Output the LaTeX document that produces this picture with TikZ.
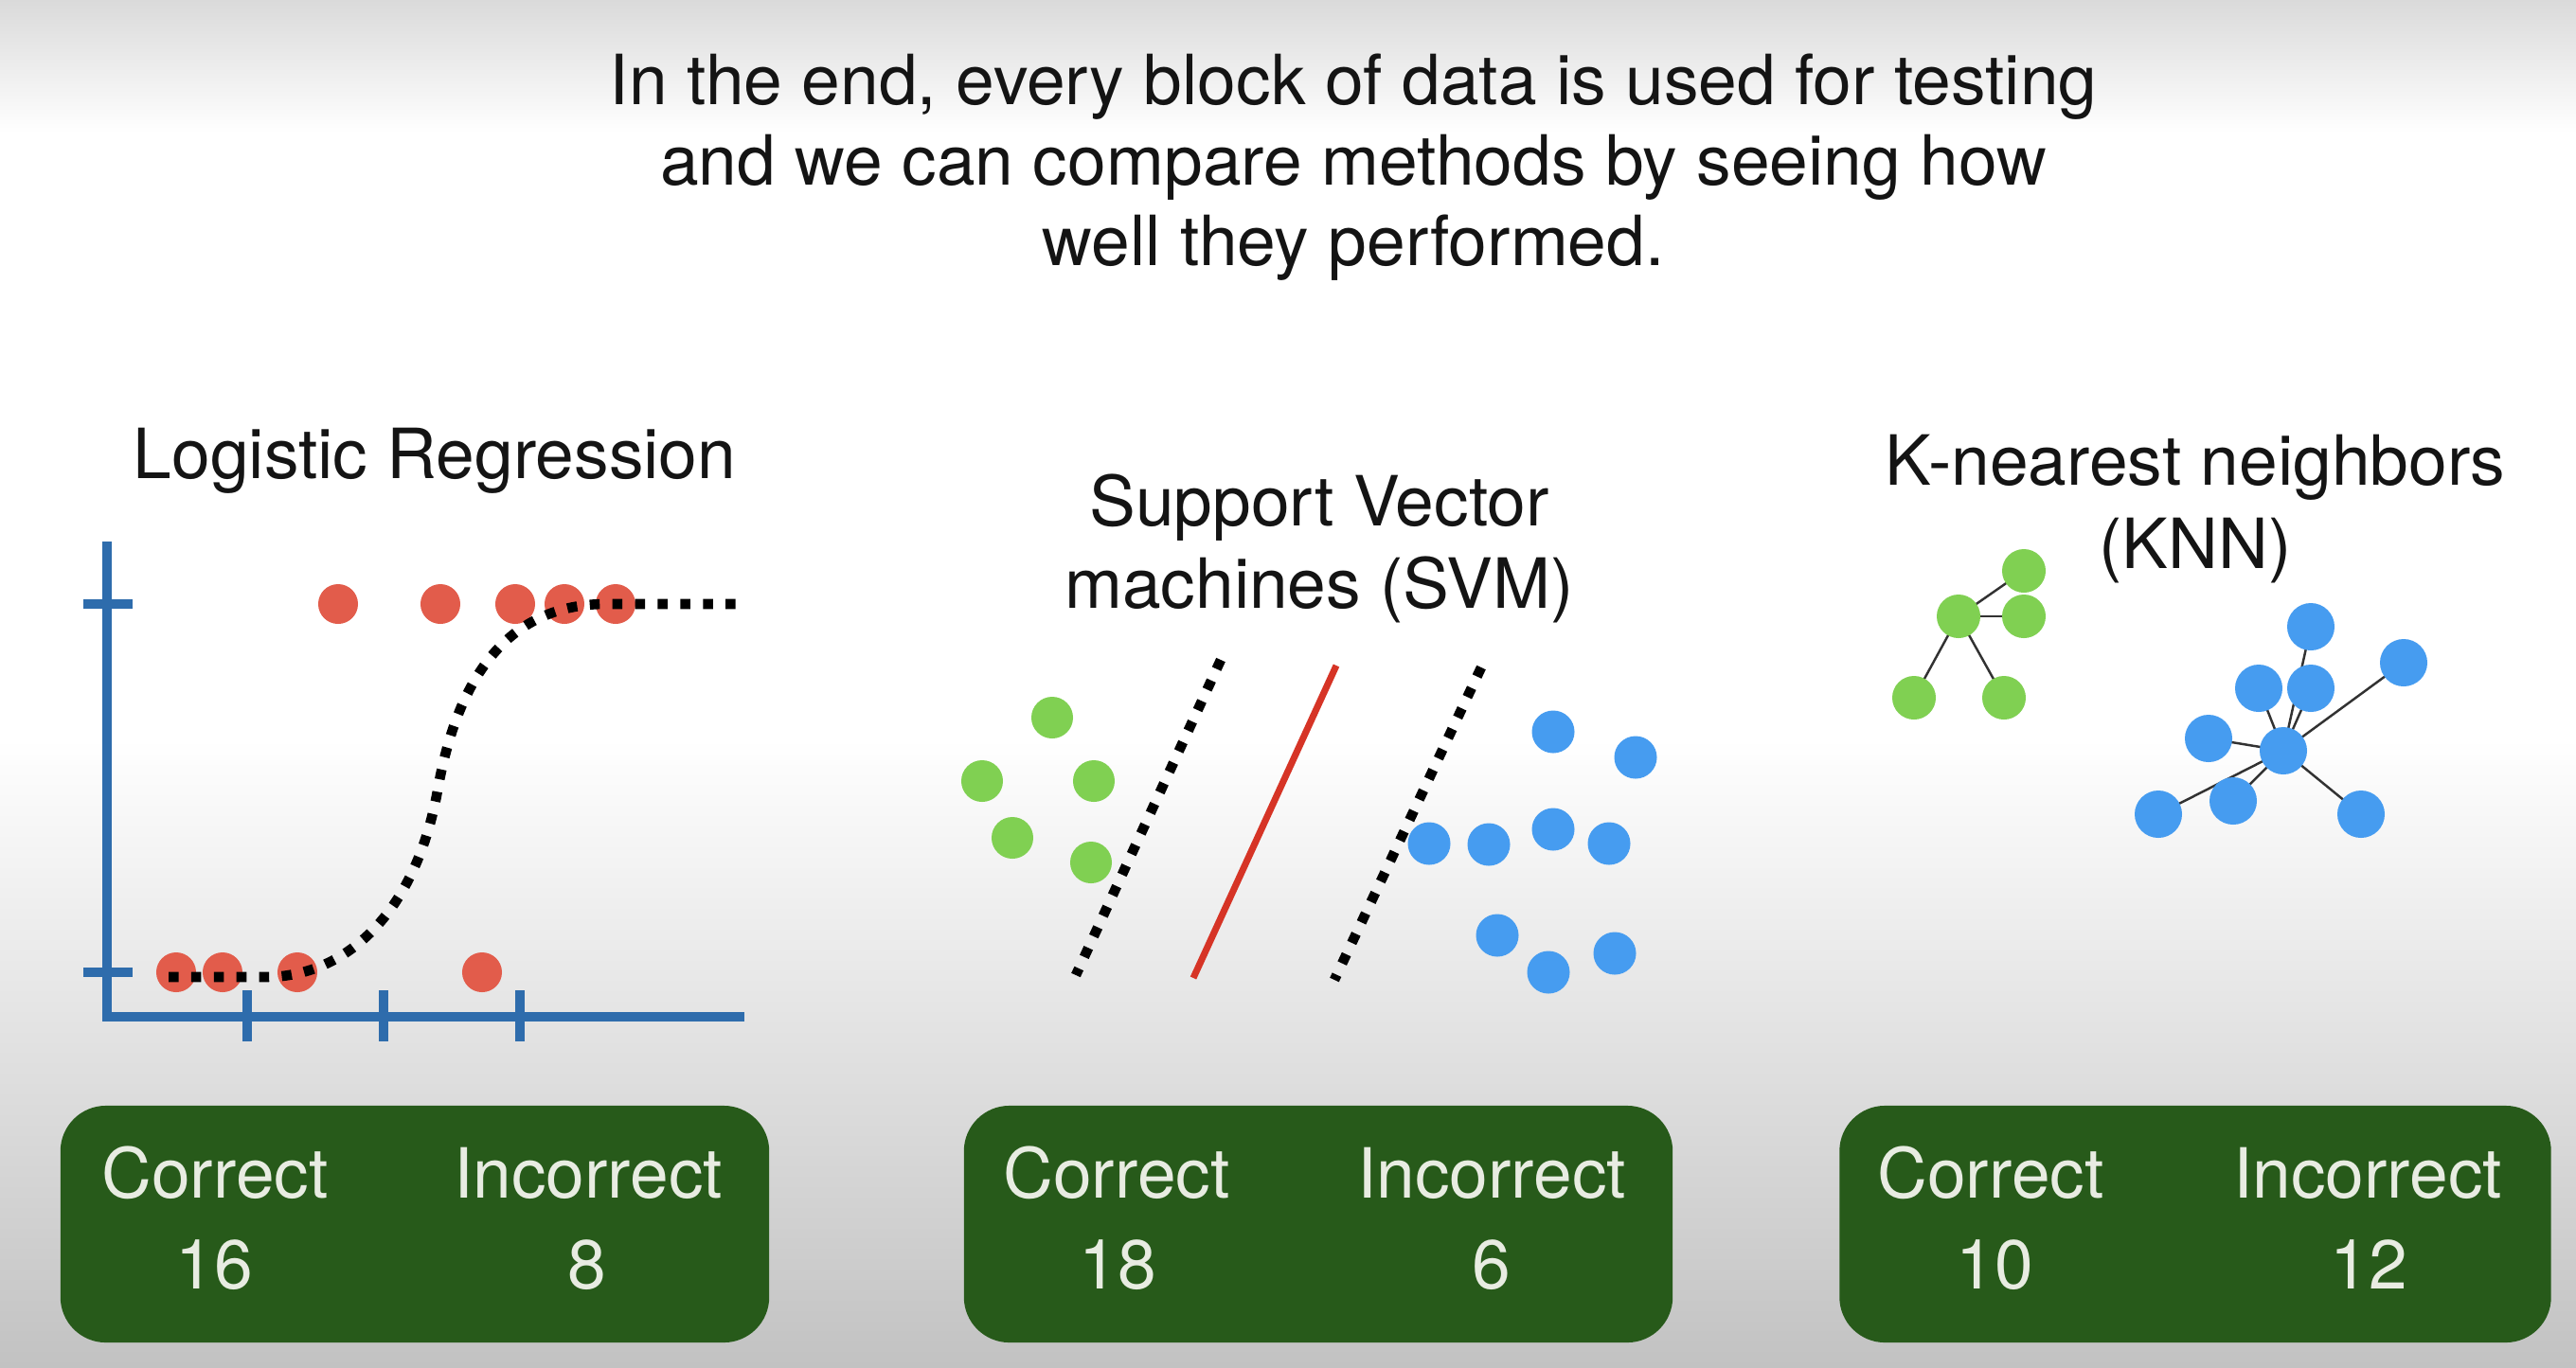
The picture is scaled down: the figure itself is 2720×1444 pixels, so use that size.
\documentclass[tikz,border=0pt]{standalone}
\usepackage{fontspec}
\setmainfont{TeX Gyre Heros}
\definecolor{bgtop}{RGB}{218,218,218}
\definecolor{bgbot}{RGB}{194,194,194}
\definecolor{dotred}{RGB}{226,92,75}
\definecolor{linered}{RGB}{214,52,38}
\definecolor{axisblue}{RGB}{46,108,172}
\definecolor{ptgreen}{RGB}{128,208,82}
\definecolor{ptblue}{RGB}{70,156,240}
\definecolor{boxgreen}{RGB}{39,90,26}
\definecolor{boxtext}{RGB}{232,236,226}
\definecolor{edgegray}{RGB}{50,50,50}
\begin{document}
\begin{tikzpicture}[x=0.01cm,y=-0.01cm,
  txt/.style={font=\fontsize{20.8pt}{25pt}\selectfont, anchor=base, inner sep=0pt, text=black!92},
  boxtxt/.style={txt, text=boxtext},
  scorebox/.style={fill=boxgreen, rounded corners=0.48cm, inner sep=0pt, minimum height=2.5cm},
  axis/.style={draw=axisblue, line width=2.83pt},
  dotline/.style={line width=3pt, dash pattern=on 3pt off 3.8pt},
  pt/.style={circle, inner sep=0pt, minimum size=#1},
  rdot/.style={pt=0.42cm, fill=dotred},
  gdot/.style={pt=0.44cm, fill=ptgreen},
  bdot/.style={pt=0.45cm, fill=ptblue},
  gnode/.style={pt=0.46cm, fill=ptgreen},
  bnode/.style={pt=0.50cm, fill=ptblue},
  edge/.style={draw=edgegray, line width=0.7pt}
]
\useasboundingbox (0,0) rectangle (2720,1444);
% background: light band at the top, grey fade towards the bottom
\fill[white] (0,0) rectangle (2720,1444);
\shade[top color=bgtop, bottom color=white] (0,0) rectangle (2720,140);
\shade[top color=white, bottom color=bgbot] (0,780) rectangle (2720,1444);

% title
\node[txt] (t1) at (1429,110) {In the end, every block of data is used for testing};
\node[txt] (t2) at (1429,195) {and we can compare methods by seeing how};
\node[txt] (t3) at (1429,280) {well they performed.};

% headings
\node[txt] (h1) at (459,505) {Logistic Regression};
\node[txt] (h2a) at (1393,555) {Support Vector};
\node[txt] (h2b) at (1393,642) {machines (SVM)};
\node[txt] (h3a) at (2318,512) {K-nearest neighbors};
\node[txt] (h3b) at (2318,600) {(KNN)};

% ---------- logistic regression plot ----------
\coordinate (ytop) at (113,572);
\coordinate (orig) at (113,1074);
\coordinate (xend) at (786,1074);
\draw[axis] (ytop) -- (orig) -- (xend);
\draw[axis] (88,638) -- (140,638);
\draw[axis] (88,1027) -- (140,1027);
\draw[axis] (261,1046) -- (261,1100);
\draw[axis] (405,1046) -- (405,1100);
\draw[axis] (549,1046) -- (549,1100);

\foreach \n/\x in {u1/357,u2/465,u3/544,u4/596,u5/650}
  \node[rdot] (\n) at (\x,638) {};
\foreach \n/\x in {l1/186,l2/235,l3/314,l4/509}
  \node[rdot] (\n) at (\x,1027) {};

\draw[dotline] (178,1032) -- (280,1032)
  .. controls (370,1032) and (440,958) .. (462,835)
  .. controls (484,710) and (540,638) .. (640,638) -- (787,638);

% ---------- support vector machine ----------
\node[gdot] (g1) at (1111,758) {};
\node[gdot] (g2) at (1037,825) {};
\node[gdot] (g3) at (1155,825) {};
\node[gdot] (g4) at (1069,885) {};
\node[gdot] (g5) at (1152,911) {};

\node[bdot] (s1) at (1640,773) {};
\node[bdot] (s2) at (1727,800) {};
\node[bdot] (s3) at (1509,891) {};
\node[bdot] (s4) at (1572,892) {};
\node[bdot] (s5) at (1640,876) {};
\node[bdot] (s6) at (1699,891) {};
\node[bdot] (s7) at (1581,988) {};
\node[bdot] (s8) at (1635,1027) {};
\node[bdot] (s9) at (1705,1007) {};

\coordinate (ma) at (1289,697);
\coordinate (mb) at (1136,1030);
\coordinate (ha) at (1411,703);
\coordinate (hb) at (1260,1033);
\coordinate (na) at (1564,705);
\coordinate (nb) at (1409,1035);
\draw[dotline] (ma) -- (mb);
\draw[linered, line width=2pt] (ha) -- (hb);
\draw[dotline] (na) -- (nb);

% ---------- k-nearest neighbours ----------
\coordinate (kg1) at (2137,603);
\coordinate (kg2) at (2068,651);
\coordinate (kg3) at (2137,651);
\coordinate (kg4) at (2021,737);
\coordinate (kg5) at (2116,737);
\foreach \t in {kg1,kg3,kg4,kg5} \draw[edge] (kg2) -- (\t);
\foreach \c in {kg1,kg2,kg3,kg4,kg5} \node[gnode] (n\c) at (\c) {};

\coordinate (hub) at (2411,793);
\coordinate (kb1) at (2440,662);
\coordinate (kb2) at (2538,700);
\coordinate (kb3) at (2385,727);
\coordinate (kb4) at (2440,727);
\coordinate (kb5) at (2332,780);
\coordinate (kb6) at (2358,846);
\coordinate (kb7) at (2279,860);
\coordinate (kb8) at (2493,860);
\foreach \t in {kb1,kb2,kb3,kb4,kb5,kb6,kb7,kb8} \draw[edge] (hub) -- (\t);
\foreach \c in {kb1,kb2,kb3,kb4,kb5,kb6,kb7,kb8,hub} \node[bnode] (n\c) at (\c) {};

% ---------- score boxes ----------
\node[scorebox, minimum width=7.48cm] (box1) at (438,1293) {};
\node[scorebox, minimum width=7.48cm] (box2) at (1392,1293) {};
\node[scorebox, minimum width=7.51cm] (box3) at (2318,1293) {};

\node[boxtxt] (c1) at (227,1265) {Correct};
\node[boxtxt] (i1) at (621,1265) {Incorrect};
\node[boxtxt] (cv1) at (226,1361) {16};
\node[boxtxt] (iv1) at (620,1361) {8};

\node[boxtxt] (c2) at (1179,1265) {Correct};
\node[boxtxt] (i2) at (1575,1265) {Incorrect};
\node[boxtxt] (cv2) at (1180,1361) {18};
\node[boxtxt] (iv2) at (1575,1361) {6};

\node[boxtxt] (c3) at (2102,1265) {Correct};
\node[boxtxt] (i3) at (2500,1265) {Incorrect};
\node[boxtxt] (cv3) at (2106,1361) {10};
\node[boxtxt] (iv3) at (2501,1361) {12};
\end{tikzpicture}
\end{document}
